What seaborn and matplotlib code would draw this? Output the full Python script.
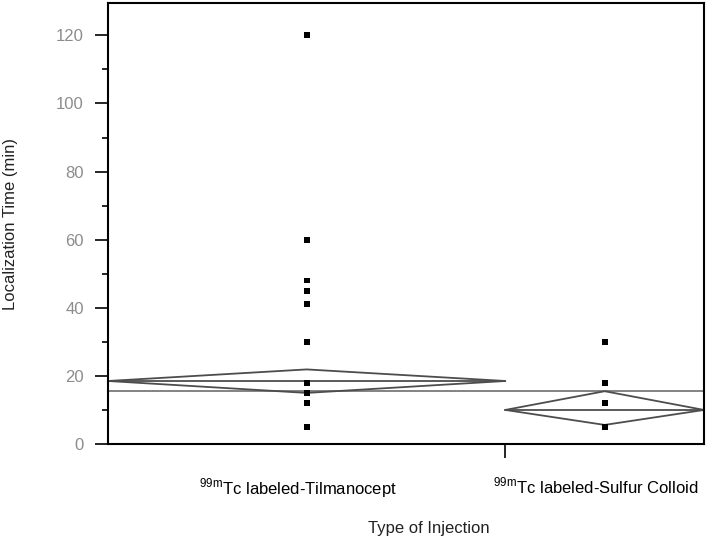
import numpy as np
import pandas as pd
import matplotlib
matplotlib.use("Agg")
import matplotlib.pyplot as plt
import matplotlib.transforms as mtransforms
import seaborn as sns

# groups (x widths in JMP are proportional to sample size)
groups = ["$^{\\mathrm{99m}}$Tc labeled-Tilmanocept", "$^{\\mathrm{99m}}$Tc labeled-Sulfur Colloid"]
group_share = [2.0, 1.0]

tilmanocept_vals = [120, 60, 48, 45, 41, 30, 18, 15, 12, 5]
colloid_vals = [30, 18, 12, 5]

# means diamonds: group mean and 95% CI
group_mean = [18.5, 10.0]
ci_low = [15.0, 5.6]
ci_high = [21.9, 15.5]
grand_mean = 15.6

yticks = [0, 20, 40, 60, 80, 100, 120]

sns.set_style("white")
plt.rcParams["font.family"] = ["Liberation Sans", "DejaVu Sans"]
plt.rcParams["mathtext.fontset"] = "custom"
plt.rcParams["mathtext.rm"] = "Liberation Sans"

edges = np.concatenate([[0], np.cumsum(group_share)])
centers = (edges[:-1] + edges[1:]) / 2

df = pd.DataFrame({
    "x": [centers[0]] * len(tilmanocept_vals) + [centers[1]] * len(colloid_vals),
    "time": tilmanocept_vals + colloid_vals,
})

fig = plt.figure(figsize=(7.13, 5.40), dpi=100)
ax = fig.add_axes([0.1515, 0.1778, 0.8359, 0.8166])

# grand mean line
ax.axhline(grand_mean, color="#7a7a7a", lw=1.3, zorder=1)

# means diamonds
for i in range(len(groups)):
    x0, x1, xc = edges[i], edges[i + 1], centers[i]
    m, lo, hi = group_mean[i], ci_low[i], ci_high[i]
    ax.plot([x0, xc, x1, xc, x0], [m, hi, m, lo, m], color="#4d4d4d", lw=1.3, zorder=2)
    ax.plot([x0, x1], [m, m], color="#4d4d4d", lw=1.3, zorder=2)

sns.scatterplot(data=df, x="x", y="time", marker="s", s=18, color="black",
                edgecolor="none", ax=ax, zorder=3, legend=False)

ax.set_xlim(edges[0], edges[-1])
ax.set_ylim(0, 129.5)

# y axis
ax.set_yticks(yticks)
ax.set_yticks(np.arange(10, 130, 20), minor=True)
ax.tick_params(axis="y", which="major", direction="out", length=9.5, width=1.4,
               labelsize=12, labelcolor="#8c8c8c", pad=8, left=True)
ax.tick_params(axis="y", which="minor", direction="out", length=4.5, width=1.4, left=True)
ax.set_ylabel("Localization Time (min)", fontsize=12, color="#222222", labelpad=27)

# x axis: tick at group boundary, labels under group centers
ax.set_xticks(edges[1:-1])
ax.set_xticklabels([])
ax.set_xticks(centers, minor=True)
ax.set_xticklabels(groups, minor=True)
ax.tick_params(axis="x", which="major", direction="out", length=10, width=1.4, bottom=True)
ax.tick_params(axis="x", which="minor", length=0, labelsize=12, pad=23, labelcolor="black")
shift = mtransforms.ScaledTranslation(-9 / 100, 0, fig.dpi_scale_trans)
for lab in ax.get_xticklabels(minor=True):
    lab.set_transform(lab.get_transform() + shift)
ax.set_xlabel("Type of Injection", fontsize=12, color="#222222")
ax.xaxis.set_label_coords(0.539, -0.175)

for s in ax.spines.values():
    s.set_visible(True)
    s.set_color("black")
    s.set_linewidth(1.5)

plt.savefig("out.png", dpi=100)
plt.close()
